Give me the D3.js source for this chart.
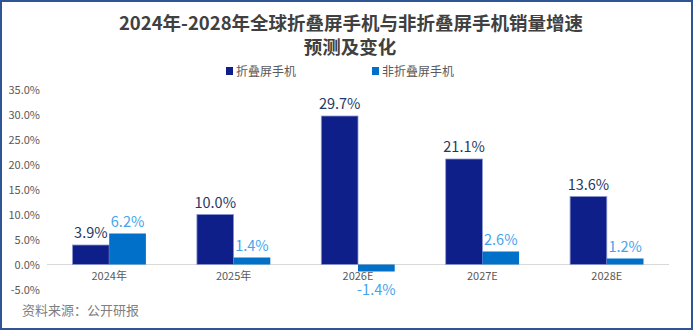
<!DOCTYPE html>
<html><head><meta charset="utf-8">
<script src="https://cdn.jsdelivr.net/npm/d3@7"></script>
<style>body{margin:0;background:#fff;}svg{display:block;}</style>
</head><body><svg id="c" width="694" height="331"></svg>
<script>
const categories = ["2024年","2025年","2026E","2027E","2028E"];
const foldable = [3.9, 10.0, 29.7, 21.1, 13.6];
const nonFoldable = [6.2, 1.4, -1.4, 2.6, 1.2];
const seriesNames = ["折叠屏手机","非折叠屏手机"];
const yTicks = [-5,0,5,10,15,20,25,30,35];

const svg = d3.select("#c");
const font = "'Microsoft YaHei','Noto Sans CJK SC',sans-serif";
svg.append("rect").attr("x",1).attr("y",1).attr("width",691).attr("height",328)
  .attr("fill","#fff").attr("stroke","#2f5597").attr("stroke-width",2);

svg.append("text").attr("x",351).attr("y",30).attr("text-anchor","middle")
  .attr("font-family",font).attr("font-size",18.5).attr("font-weight","bold").attr("fill","#404040")
  .text("2024年-2028年全球折叠屏手机与非折叠屏手机销量增速");
svg.append("text").attr("x",350).attr("y",54).attr("text-anchor","middle")
  .attr("font-family",font).attr("font-size",18.5).attr("font-weight","bold").attr("fill","#404040")
  .text("预测及变化");

const colors = ["#0f1f8a","#0070c8"];
const labelColors = ["#1f3864","#45a4ee"];
const legendX = [226, 372];
seriesNames.forEach((n,i)=>{
  svg.append("rect").attr("x",legendX[i]).attr("y",67).attr("width",7).attr("height",8).attr("fill",colors[i]);
  svg.append("text").attr("x",legendX[i]+10).attr("y",75.5).attr("font-family",font).attr("font-size",12)
    .attr("fill","#595959").text(n);
});

const x = d3.scaleBand().domain(categories).range([47,669]).paddingInner(0.41).paddingOuter(0.205);
const y = d3.scaleLinear().domain([-5,35]).range([289.5,89.5]);
const xs = d3.scaleBand().domain([0,1]).range([0,x.bandwidth()]);

const yAxis = svg.append("g").attr("transform","translate(44,0)")
  .call(d3.axisLeft(y).tickValues(yTicks).tickFormat(d=>d.toFixed(1)+"%").tickSize(0).tickPadding(4));
yAxis.select(".domain").remove();
yAxis.selectAll("text").attr("font-family",font).attr("font-size",11).attr("fill","#595959");

svg.append("line").attr("x1",47).attr("x2",669).attr("y1",y(0)).attr("y2",y(0))
  .attr("stroke","#d9d9d9").attr("stroke-width",1);

const xAxis = svg.append("g").attr("transform",`translate(0,${y(0)})`)
  .call(d3.axisBottom(x).tickSize(0).tickPadding(8));
xAxis.select(".domain").remove();
xAxis.selectAll("text").attr("font-family",font).attr("font-size",11).attr("fill","#595959");

[foldable, nonFoldable].forEach((vals,si)=>{
  const g = svg.append("g");
  g.selectAll("rect").data(vals).join("rect")
    .attr("x",(d,i)=>x(categories[i])+xs(si))
    .attr("width",xs.bandwidth())
    .attr("y",d=>y(Math.max(0,d)))
    .attr("height",d=>Math.abs(y(d)-y(0)))
    .attr("fill",colors[si])
    .attr("stroke",si===0?"#8a96cf":"none").attr("stroke-width",0.8);
  g.selectAll("text").data(vals).join("text")
    .attr("x",(d,i)=>x(categories[i])+xs(si)+xs.bandwidth()/2)
    .attr("y",d=> d>=0 ? y(d)-7 : y(d)+23)
    .attr("text-anchor","middle").attr("font-family",font).attr("font-size",14.5)
    .attr("fill",labelColors[si]).text(d=>d.toFixed(1)+"%");
});

svg.append("text").attr("x",22).attr("y",315).attr("font-family",font).attr("font-size",13)
  .attr("fill","#7f7f7f").text("资料来源：公开研报");
</script></body></html>
